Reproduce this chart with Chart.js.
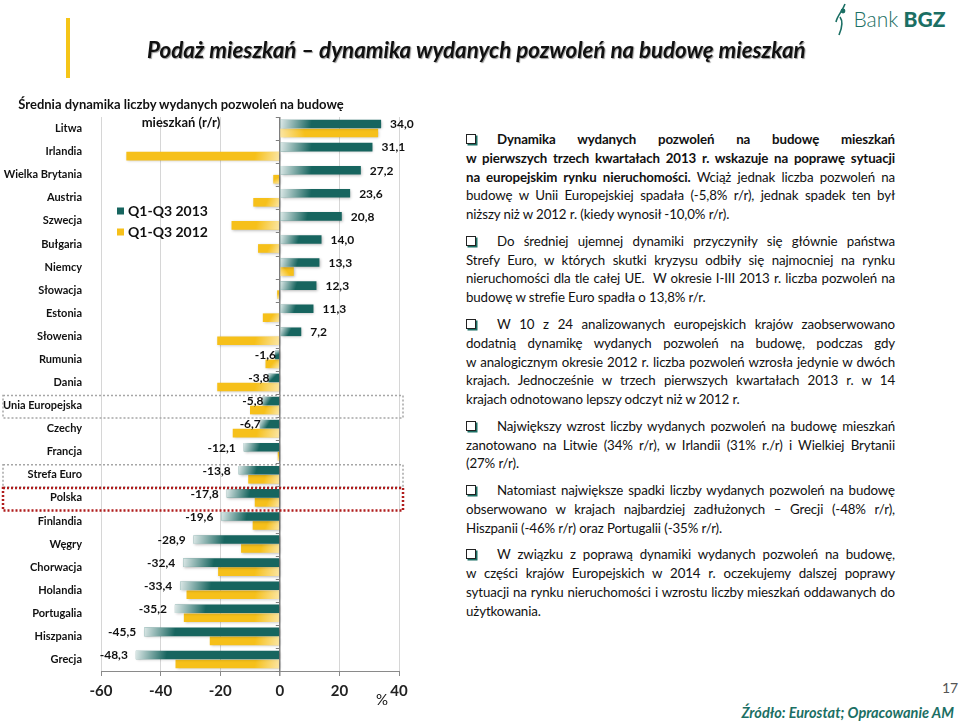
<!DOCTYPE html>
<html lang="pl">
<head>
<meta charset="utf-8">
<script src="https://cdn.jsdelivr.net/npm/chart.js@4.4.1/dist/chart.umd.min.js"></script>
<style>
  html, body { margin: 0; padding: 0; background: #fff; }
  body { width: 960px; height: 726px; position: relative; overflow: hidden; font-family: Lato, "Open Sans", sans-serif; color: #111; }
  #chartBox { position: absolute; left: 0; top: 0; width: 420px; height: 726px; }
  .abs { position: absolute; white-space: nowrap; }
  #accent { left: 66px; top: 18px; width: 4px; height: 60px; background: #f5c518; }
  #title { left: 147px; top: 36px; font-size: 22.3px; font-weight: 700; font-style: italic; text-shadow: 1px 1px 1px #9a9a9a; }
  #logo { left: 834px; top: 2px; height: 34px; color: #1b6f64; font-size: 21px; line-height: 34px; }
  #logo svg { vertical-align: top; }
  #logo .t { font-weight: 300; }
  #logo .b { font-weight: 900; }
  #ctitle { left: 0; top: 95px; width: 362px; text-align: center; font-size: 13px; font-weight: 700; line-height: 18px; }
  #pct { left: 376px; top: 690px; font-size: 15px; }
  #page { left: 942px; top: 679px; font-size: 14px; color: #555; }
  #src { right: 6px; top: 704px; font-size: 14.5px; font-weight: 700; font-style: italic; color: #1b6f64; }
  #text { position: absolute; left: 466px; top: 130px; width: 429px; font-size: 13.3px; letter-spacing: -0.12px; line-height: 18.8px; }
  #text p { margin: 0 0 7.9px 0; }
  #text .l { display: block; text-align: justify; text-align-last: justify; }
  #text .l.last { text-align-last: left; }
  #text .first { padding-left: 31px; position: relative; }
  #text .first::before { content: ""; position: absolute; left: 0; top: 4px; width: 8px; height: 8px; border: 1.4px solid #222; box-shadow: 1.5px 1.5px 0 #1b6f64; }
</style>
</head>
<body>
<div id="chartBox"><canvas id="chart" width="420" height="726"></canvas></div>
<div class="abs" id="accent"></div>
<div class="abs" id="title">Podaż mieszkań – dynamika wydanych pozwoleń na budowę mieszkań</div>
<div class="abs" id="logo"><svg width="14" height="34" viewBox="0 0 14 34"><circle cx="9" cy="9" r="2.4" fill="#1b6f64"/><path d="M11 2 C8 10 3 14 2 20 M6 15 C9 19 8 26 5 33" stroke="#1b6f64" stroke-width="1.6" fill="none"/></svg> <span class="t">Bank</span> <span class="b">BGZ</span></div>
<div class="abs" id="ctitle">Średnia dynamika liczby wydanych pozwoleń na budowę<br>mieszkań (r/r)</div>
<div class="abs" id="pct">%</div>
<div class="abs" id="page">17</div>
<div class="abs" id="src">Źródło: Eurostat; Opracowanie AM</div>

<div id="text">
  <p>
    <span class="l first"><b>Dynamika wydanych pozwoleń na budowę mieszkań</b></span>
    <span class="l"><b>w pierwszych trzech kwartałach 2013 r. wskazuje na poprawę sytuacji</b></span>
    <span class="l"><b>na europejskim rynku nieruchomości.</b> Wciąż jednak liczba pozwoleń na</span>
    <span class="l">budowę w Unii Europejskiej spadała (-5,8% r/r), jednak spadek ten był</span>
    <span class="l last">niższy niż w 2012 r. (kiedy wynosił -10,0% r/r).</span>
  </p>
  <p>
    <span class="l first">Do średniej ujemnej dynamiki przyczyniły się głównie państwa</span>
    <span class="l">Strefy Euro, w których skutki kryzysu odbiły się najmocniej na rynku</span>
    <span class="l">nieruchomości dla tle całej UE.&nbsp; W okresie I-III 2013 r. liczba pozwoleń na</span>
    <span class="l last">budowę w strefie Euro spadła o 13,8% r/r.</span>
  </p>
  <p>
    <span class="l first">W 10 z 24 analizowanych europejskich krajów zaobserwowano</span>
    <span class="l">dodatnią dynamikę wydanych pozwoleń na budowę, podczas gdy</span>
    <span class="l">w analogicznym okresie 2012 r. liczba pozwoleń wzrosła jedynie w dwóch</span>
    <span class="l">krajach. Jednocześnie w trzech pierwszych kwartałach 2013 r. w 14</span>
    <span class="l last">krajach odnotowano lepszy odczyt niż w 2012 r.</span>
  </p>
  <p>
    <span class="l first">Największy wzrost liczby wydanych pozwoleń na budowę mieszkań</span>
    <span class="l">zanotowano na Litwie (34% r/r), w Irlandii (31% r./r) i Wielkiej Brytanii</span>
    <span class="l last">(27% r/r).</span>
  </p>
  <p>
    <span class="l first">Natomiast największe spadki liczby wydanych pozwoleń na budowę</span>
    <span class="l">obserwowano w krajach najbardziej zadłużonych – Grecji (-48% r/r),</span>
    <span class="l last">Hiszpanii (-46% r/r) oraz Portugalii (-35% r/r).</span>
  </p>
  <p>
    <span class="l first">W związku z poprawą dynamiki wydanych pozwoleń na budowę,</span>
    <span class="l">w części krajów Europejskich w 2014 r. oczekujemy dalszej poprawy</span>
    <span class="l">sytuacji na rynku nieruchomości i wzrostu liczby mieszkań oddawanych do</span>
    <span class="l last">użytkowania.</span>
  </p>
</div>

<script>
  const categories = [
    'Litwa', 'Irlandia', 'Wielka Brytania', 'Austria', 'Szwecja', 'Bułgaria', 'Niemcy', 'Słowacja',
    'Estonia', 'Słowenia', 'Rumunia', 'Dania', 'Unia Europejska', 'Czechy', 'Francja', 'Strefa Euro',
    'Polska', 'Finlandia', 'Węgry', 'Chorwacja', 'Holandia', 'Portugalia', 'Hiszpania', 'Grecja'
  ];
  const q2013 = [34.0, 31.1, 27.2, 23.6, 20.8, 14.0, 13.3, 12.3, 11.3, 7.2, -1.6, -3.8, -5.8, -6.7,
    -12.1, -13.8, -17.8, -19.6, -28.9, -32.4, -33.4, -35.2, -45.5, -48.3];
  const q2012 = [33.0, -51.5, -2.2, -8.9, -16.2, -7.3, 4.7, -0.9, -5.7, -21.0, -4.8, -21.0, -10.0, -15.8,
    -0.7, -10.6, -8.4, -9.1, -13.0, -20.7, -31.3, -32.2, -23.5, -35.0];
  const xMin = -60, xMax = 40, xStep = 20;
  const grayBoxes = ['Unia Europejska', 'Strefa Euro'];
  const redBoxes = ['Polska'];

  const TEAL = '#17655f';
  const YELLOW = '#f6c01a';
  const FONT = 'Lato, "Open Sans", sans-serif';

  const fmt = v => v.toFixed(1).replace('.', ',');

  // soft shadow under the bars + light gradients like the original
  const barLook = {
    id: 'barLook',
    beforeDatasetsDraw(chart) {
      const ctx = chart.ctx;
      ctx.save();
      ctx.shadowColor = 'rgba(0,0,0,0.28)';
      ctx.shadowBlur = 3;
      ctx.shadowOffsetX = 1;
      ctx.shadowOffsetY = 1;
    },
    afterDatasetsDraw(chart) {
      const ctx = chart.ctx;
      ctx.restore();
      chart.getDatasetMeta(0).data.forEach(bar => {
        const l = Math.min(bar.x, bar.base), r = Math.max(bar.x, bar.base);
        const t = bar.y - bar.height / 2, b = bar.y + bar.height / 2;
        const w = r - l;
        const g = ctx.createLinearGradient(l, t, l + Math.min(w, 70) * 0.8, b);
        g.addColorStop(0, 'rgba(255,255,255,0.85)');
        g.addColorStop(0.55, 'rgba(255,255,255,0)');
        ctx.fillStyle = g;
        ctx.fillRect(l, t, w, b - t);
      });
      chart.getDatasetMeta(1).data.forEach(bar => {
        const l = Math.min(bar.x, bar.base), r = Math.max(bar.x, bar.base);
        const t = bar.y - bar.height / 2, b = bar.y + bar.height / 2;
        const dir = bar.x >= bar.base ? 1 : -1;
        const g = ctx.createLinearGradient(bar.base, b, bar.base + dir * Math.min(r - l, 50) * 0.8, t);
        g.addColorStop(0, 'rgba(255,255,255,0.6)');
        g.addColorStop(0.6, 'rgba(255,255,255,0)');
        ctx.fillStyle = g;
        ctx.fillRect(l, t, r - l, b - t);
      });
    }
  };

  const extras = {
    id: 'extras',
    afterDraw(chart) {
      const ctx = chart.ctx;
      const xs = chart.scales.x, ys = chart.scales.y;
      const zero = xs.getPixelForValue(0);
      ctx.save();
      // small ticks on the zero axis between categories
      ctx.strokeStyle = '#7f7f7f';
      ctx.lineWidth = 1;
      for (let i = 0; i <= categories.length; i++) {
        const y = Math.round(ys.getPixelForValue(i - 0.5)) + 0.5;
        ctx.beginPath();
        ctx.moveTo(zero - 4, y);
        ctx.lineTo(zero, y);
        ctx.stroke();
      }
      // value labels of the 2013 series
      ctx.font = 'bold 12px ' + FONT;
      ctx.fillStyle = '#111';
      ctx.textBaseline = 'middle';
      chart.getDatasetMeta(0).data.forEach((bar, i) => {
        const v = q2013[i];
        if (v >= 0) {
          ctx.textAlign = 'left';
          ctx.fillText(fmt(v), bar.x + 9, bar.y + 0.5);
        } else {
          ctx.textAlign = 'right';
          const gap = Math.abs(v) < 8 ? -1 : 8;
          ctx.fillText(fmt(v), bar.x - gap, bar.y + 0.5);
        }
      });
      // dotted frames
      const frame = (name, color, lw) => {
        const y = ys.getPixelForValue(categories.indexOf(name));
        ctx.strokeStyle = color;
        ctx.lineWidth = lw;
        ctx.setLineDash([2, 2]);
        ctx.strokeRect(3, y - 10, 400, 22.5);
      };
      grayBoxes.forEach(n => frame(n, '#a6a6a6', 1.5));
      redBoxes.forEach(n => frame(n, '#b01c1c', 2.5));
      ctx.setLineDash([]);
      // legend inside the plot
      const items = [[chart.data.datasets[0].label, TEAL], [chart.data.datasets[1].label, YELLOW]];
      ctx.font = 'bold 14px ' + FONT;
      ctx.textAlign = 'left';
      items.forEach(([label, color], k) => {
        const y = 211 + k * 21;
        ctx.fillStyle = color;
        ctx.fillRect(117, y - 3.5, 7, 7);
        ctx.fillStyle = '#111';
        ctx.fillText(label, 128, y + 0.5);
      });
      ctx.restore();
    }
  };

  new Chart(document.getElementById('chart'), {
    type: 'bar',
    data: {
      labels: categories,
      datasets: [
        { label: 'Q1-Q3 2013', data: q2013, backgroundColor: TEAL },
        { label: 'Q1-Q3 2012', data: q2012, backgroundColor: YELLOW }
      ]
    },
    options: {
      indexAxis: 'y',
      responsive: false,
      animation: false,
      events: [],
      layout: { padding: { top: 117, right: 21, bottom: 20, left: 0 } },
      datasets: { bar: { categoryPercentage: 0.78, barPercentage: 0.96 } },
      plugins: { legend: { display: false }, tooltip: { enabled: false }, title: { display: false } },
      scales: {
        x: {
          min: xMin, max: xMax,
          afterFit(s) { s.height = 35; },
          ticks: { stepSize: xStep, color: '#222', padding: 6, font: { family: FONT, size: 15, weight: 'bold' } },
          grid: {
            color: c => c.tick && c.tick.value === 0 ? '#7f7f7f' : '#d6d6d6',
            lineWidth: c => c.tick && c.tick.value === 0 ? 1.5 : 1,
            tickColor: '#8a8a8a', tickLength: 5
          },
          border: { display: true, color: '#8a8a8a' }
        },
        y: {
          afterFit(s) { s.width = 101; },
          grid: { display: false },
          border: { display: false },
          ticks: { color: '#111', padding: 11, autoSkip: false, font: { family: FONT, size: 11, weight: 'bold' } }
        }
      }
    },
    plugins: [barLook, extras]
  });
</script>
</body>
</html>
